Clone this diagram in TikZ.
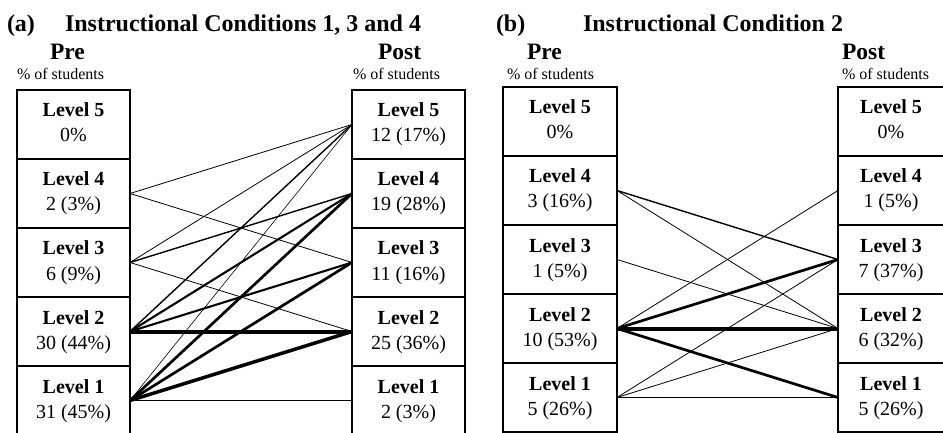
\documentclass[tikz,border=0pt]{standalone}
\usepackage{fontspec}
\setmainfont{Liberation Serif}
\newcommand\celltext[2]{\begin{tabular}{@{}c@{}}\textbf{#1}\\#2\end{tabular}}
\begin{document}
\begin{tikzpicture}[x=1pt,y=-1pt,
  cell/.style={draw, line width=1.5pt, rectangle, anchor=north west,
    minimum width=113pt, minimum height=69pt, inner sep=0pt, outer sep=0pt,
    font=\fontsize{20}{25}\selectfont},
  txt/.style={anchor=base west, inner sep=0pt, outer sep=0pt},
  title/.style={txt, font=\fontsize{24}{28}\selectfont\bfseries},
  head/.style={txt, font=\fontsize{23.5}{28}\selectfont\bfseries},
  sub/.style={txt, font=\fontsize{16}{18}\selectfont},
  lthin/.style={line width=0.8pt},
  lmed/.style={line width=1.4pt},
  lthick/.style={line width=2.1pt},
  lheavy/.style={line width=2.7pt},
  lmax/.style={line width=4pt}
]
\useasboundingbox (0,0) rectangle (943,433);

% ---------- panel (a) ----------
\node[title] (ta) at (7,32) {(a)};
\node[title] (tat) at (65,32) {Instructional Conditions 1, 3 and 4};
\node[head] (apre) at (50,60) {Pre};
\node[head] (apost) at (378,60) {Post};
\node[sub] (apres) at (17,80) {\% of students};
\node[sub] (aposts) at (353,80) {\% of students};

\node[cell] (a5) at (17,90)  {\celltext{Level 5}{0\%}};
\node[cell] (a4) at (17,159) {\celltext{Level 4}{2 (3\%)}};
\node[cell] (a3) at (17,228) {\celltext{Level 3}{6 (9\%)}};
\node[cell] (a2) at (17,297) {\celltext{Level 2}{30 (44\%)}};
\node[cell] (a1) at (17,366) {\celltext{Level 1}{31 (45\%)}};

\node[cell] (b5) at (352,90)  {\celltext{Level 5}{12 (17\%)}};
\node[cell] (b4) at (352,159) {\celltext{Level 4}{19 (28\%)}};
\node[cell] (b3) at (352,228) {\celltext{Level 3}{11 (16\%)}};
\node[cell] (b2) at (352,297) {\celltext{Level 2}{25 (36\%)}};
\node[cell] (b1) at (352,366) {\celltext{Level 1}{2 (3\%)}};

\draw[lthin]  (a4.east) -- (b5.west);
\draw[lthin]  (a4.east) -- (b3.west);
\draw[lthin]  (a3.east) -- (b5.west);
\draw[lmed]   (a3.east) -- (b4.west);
\draw[lthin]  (a3.east) -- (b2.west);
\draw[lmed]   (a2.east) -- (b5.west);
\draw[lthick] (a2.east) -- (b4.west);
\draw[lthick] (a2.east) -- (b3.west);
\draw[lmax]   (a2.east) -- (b2.west);
\draw[line width=0.6pt] (a1.east) -- (b5.west);
\draw[lheavy] (a1.east) -- (b4.west);
\draw[lheavy] (a1.east) -- (b3.west);
\draw[line width=3.5pt] (a1.east) -- (b2.west);
\draw[lthin]  (a1.east) -- (b1.west);

% ---------- panel (b) ----------
\node[title] (tb) at (496,32) {(b)};
\node[title] (tbt) at (583,32) {Instructional Condition 2};
\node[head] (bpre) at (527,60) {Pre};
\node[head] (bpost) at (842,60) {Post};
\node[sub] (bpres) at (507,80) {\% of students};
\node[sub] (bposts) at (842,80) {\% of students};

\node[cell, minimum width=114pt] (c5) at (503,87)  {\celltext{Level 5}{0\%}};
\node[cell, minimum width=114pt] (c4) at (503,156) {\celltext{Level 4}{3 (16\%)}};
\node[cell, minimum width=114pt] (c3) at (503,225) {\celltext{Level 3}{1 (5\%)}};
\node[cell, minimum width=114pt] (c2) at (503,294) {\celltext{Level 2}{10 (53\%)}};
\node[cell, minimum width=114pt] (c1) at (503,363) {\celltext{Level 1}{5 (26\%)}};

\node[cell, minimum width=106pt] (d5) at (838,87)  {\celltext{Level 5}{0\%}};
\node[cell, minimum width=106pt] (d4) at (838,156) {\celltext{Level 4}{1 (5\%)}};
\node[cell, minimum width=106pt] (d3) at (838,225) {\celltext{Level 3}{7 (37\%)}};
\node[cell, minimum width=106pt] (d2) at (838,294) {\celltext{Level 2}{6 (32\%)}};
\node[cell, minimum width=106pt] (d1) at (838,363) {\celltext{Level 1}{5 (26\%)}};

\draw[lmed]   (c4.east) -- (d3.west);
\draw[lthin]  (c4.east) -- (d2.west);
\draw[lthin]  (c3.east) -- (d2.west);
\draw[lthin]  (c2.east) -- (d4.west);
\draw[lheavy] (c2.east) -- (d3.west);
\draw[lmax]   (c2.east) -- (d2.west);
\draw[lheavy] (c2.east) -- (d1.west);
\draw[lthin]  (c1.east) -- (d3.west);
\draw[lthin]  (c1.east) -- (d2.west);
\draw[lthin]  (c1.east) -- (d1.west);
\end{tikzpicture}
\end{document}
